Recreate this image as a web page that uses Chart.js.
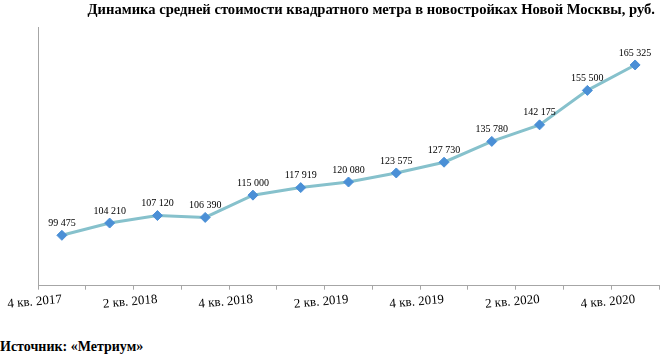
<!DOCTYPE html>
<html>
<head>
<meta charset="utf-8">
<script src="https://cdn.jsdelivr.net/npm/chart.js@4"></script>
<style>
  html, body { margin: 0; padding: 0; background: #fff; }
  #wrap { position: relative; width: 665px; height: 358px; }
  #chart { position: absolute; left: 0; top: 0; }
  #ttl { position: absolute; right: 10px; top: 1px; font: bold 14.6px "Liberation Serif", serif; color: #000; white-space: nowrap; }
  #src { position: absolute; left: 0; top: 339px; font: bold 14px "Liberation Serif", serif; color: #000; }
</style>
</head>
<body>
<div id="wrap">
  <canvas id="chart" width="665" height="314"></canvas>
  <div id="ttl"></div>
  <div id="src">Источник: «Метриум»</div>
</div>
<script>
// ── data ─────────────────────────────────────────────────────────────
var quarters = ['4 кв. 2017', '1 кв. 2018', '2 кв. 2018', '3 кв. 2018', '4 кв. 2018',
  '1 кв. 2019', '2 кв. 2019', '3 кв. 2019', '4 кв. 2019', '1 кв. 2020',
  '2 кв. 2020', '3 кв. 2020', '4 кв. 2020'];
var pricePerSqm = [99475, 104210, 107120, 106390, 115000, 117919, 120080,
  123575, 127730, 135780, 142175, 155500, 165325];
var chartTitle = 'Динамика средней стоимости квадратного метра в новостройках Новой Москвы, руб.';

var serif = '"Liberation Serif", "Times New Roman", serif';
document.getElementById('ttl').textContent = chartTitle;

function fmt(v) {
  return String(v).replace(/\B(?=(\d{3})+(?!\d))/g, ' ');
}

// simple value labels above the points (no datalabels plugin available)
var pointLabels = {
  id: 'pointLabels',
  afterDatasetsDraw: function(chart) {
    var ctx = chart.ctx;
    var meta = chart.getDatasetMeta(0);
    ctx.save();
    ctx.font = '10px ' + serif;
    ctx.fillStyle = '#000';
    ctx.textAlign = 'center';
    ctx.textBaseline = 'bottom';
    meta.data.forEach(function(el, i) {
      ctx.fillText(fmt(pricePerSqm[i]), el.x, el.y - 7);
    });
    ctx.restore();
  }
};

new Chart(document.getElementById('chart'), {
  type: 'line',
  data: {
    labels: quarters,
    datasets: [{
      data: pricePerSqm,
      borderColor: '#86c1cc',
      borderWidth: 3,
      pointStyle: 'rectRot',
      pointRadius: 5,
      pointBackgroundColor: '#4a8fd6',
      pointBorderColor: '#4a8fd6',
      pointBorderWidth: 1,
      tension: 0
    }]
  },
  options: {
    responsive: false,
    animation: false,
    layout: { padding: { left: 30, right: 0, top: 27, bottom: 0 } },
    plugins: {
      legend: { display: false },
      tooltip: { enabled: false },
      title: { display: false }
    },
    scales: {
      x: {
        offset: true,
        grid: {
          offset: true,
          drawOnChartArea: false,
          drawTicks: true,
          tickLength: 4,
          color: '#a6a6a6'
        },
        border: { color: '#a6a6a6', width: 1 },
        ticks: {
          autoSkip: false,
          minRotation: 5,
          maxRotation: 5,
          padding: 2,
          color: '#000',
          font: { family: serif, size: 13 },
          callback: function(val, idx) {
            return idx % 2 === 0 ? quarters[idx] : '';
          }
        }
      },
      y: {
        min: 80000,
        max: 180000,
        grid: { display: false },
        border: { color: '#a6a6a6', width: 1 },
        ticks: { display: false }
      }
    }
  },
  plugins: [pointLabels]
});
</script>
</body>
</html>
